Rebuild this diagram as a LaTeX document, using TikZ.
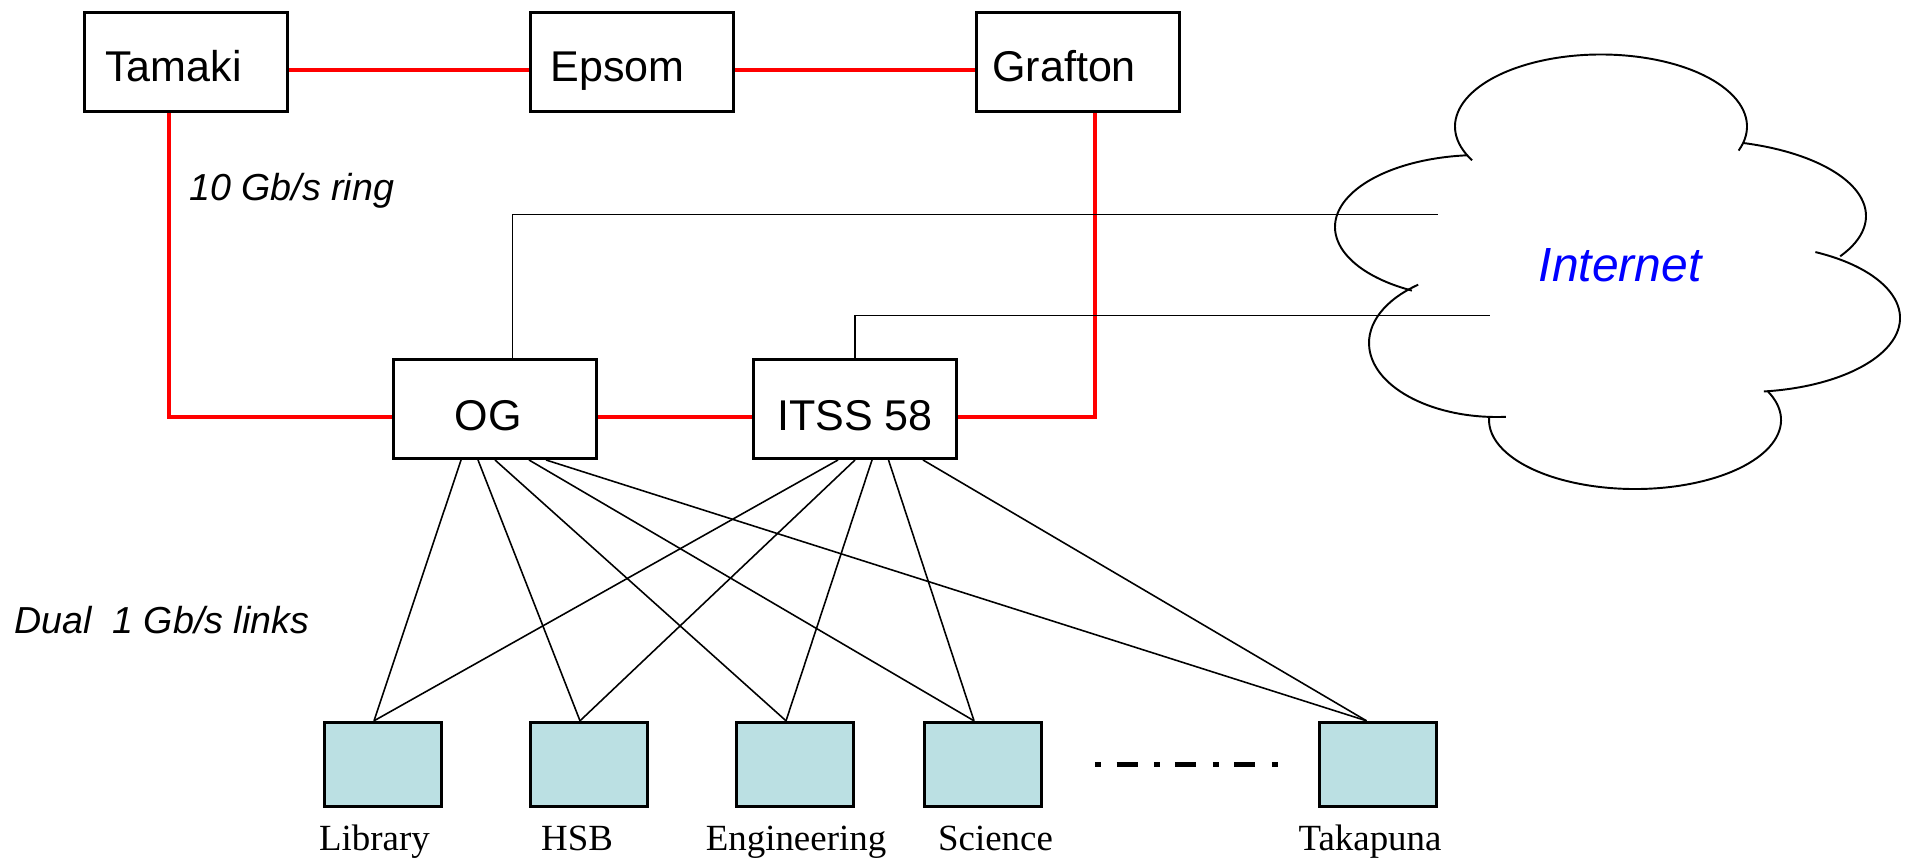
\documentclass[tikz,border=0pt]{standalone}
\usepackage{fontspec}
\setmainfont{Liberation Serif}
\newfontfamily\arial{Liberation Sans}
\usetikzlibrary{calc}
\definecolor{sitefill}{RGB}{187,224,227}
\definecolor{netblue}{RGB}{0,0,255}
\definecolor{ringred}{RGB}{255,0,0}
\tikzset{
  box/.style={draw, line width=1.7pt, fill=white, minimum width=4.06cm, minimum height=1.98cm, inner sep=0pt},
  site/.style={draw, line width=1.6pt, fill=sitefill, minimum width=2.35cm, minimum height=1.68cm, inner sep=0pt},
  ring/.style={draw=ringred, line width=2.75pt},
  link/.style={draw, line width=0.9pt},
  cloudline/.style={draw, line width=1.1pt},
  boxlabel/.style={font=\arial\fontsize{24.5}{29}\selectfont, inner sep=0pt, anchor=base west},
  notelabel/.style={font=\arial\itshape\fontsize{21.4}{25}\selectfont, inner sep=0pt, anchor=base west},
  sitelabel/.style={font=\fontsize{21}{25}\selectfont, inner sep=0pt, anchor=base},
}
\begin{document}
\begin{tikzpicture}[x=0.02cm, y=-0.02cm]
\useasboundingbox (0,0) rectangle (1905,859);

% cloud
\draw[cloudline] (1601,126.5) ++(152:146 and 72) arc[start angle=152, end angle=379.5, x radius=146, y radius=72];
\draw[cloudline] (1696,216) ++(-74:170 and 76) arc[start angle=-74, end angle=32, x radius=170, y radius=76];
\draw[cloudline] (1745,318) ++(-63:155 and 74) arc[start angle=-63, end angle=83, x radius=155, y radius=74];
\draw[cloudline] (1635,420) ++(-25:146 and 69) arc[start angle=-25, end angle=182, x radius=146, y radius=69];
\draw[cloudline] (1497,343) ++(86:128 and 74) arc[start angle=86, end angle=232, x radius=128, y radius=74];
\draw[cloudline] (1480,227) ++(118:145 and 72) arc[start angle=118, end angle=265, x radius=145, y radius=72];
\node[font=\arial\itshape\fontsize{27.3}{32}\selectfont, text=netblue, anchor=base, inner sep=0pt] (net) at (1620,281.7) {Internet};

% core boxes
\node[box] (tamaki) at (186,62) {};
\node[box] (epsom) at (632,62) {};
\node[box] (grafton) at (1078,62) {};
\node[box] (og) at (495,409) {};
\node[box] (itss) at (855,409) {};

\node[boxlabel] (tamakiT) at (105,81.7) {Tamaki};
\node[boxlabel] (epsomT) at (550,81.7) {Epsom};
\node[boxlabel] (graftonT) at (992,81.7) {Grafton};
\node[boxlabel, anchor=base] (ogT) at (488,430) {OG};
\node[boxlabel, anchor=base] (itssT) at (855,430) {ITSS 58};

% 10 Gb/s ring
\draw[ring] ([yshift=-0.16cm]tamaki.east) -- ([yshift=-0.16cm]epsom.west);
\draw[ring] ([yshift=-0.16cm]epsom.east) -- ([yshift=-0.16cm]grafton.west);
\draw[ring] ([xshift=-0.34cm]tamaki.south) |- ([yshift=-0.16cm]og.west);
\draw[ring] ([yshift=-0.16cm]og.east) -- ([yshift=-0.16cm]itss.west);
\draw[ring] ([yshift=-0.16cm]itss.east) -| ([xshift=0.34cm]grafton.south);

% internet links
\coordinate (net1) at (1438,214.3);
\coordinate (net2) at (1489.5,315.7);
\draw[link] ([xshift=0.354cm]og.north) |- (net1);
\draw[link] (itss.north) |- (net2);

% sites
\node[site] (lib) at (383,764.2) {};
\node[site] (hsb) at (589,764.2) {};
\node[site] (eng) at (795,764.2) {};
\node[site] (sci) at (983,764.2) {};
\node[site] (tak) at (1378,764.2) {};

\node[sitelabel] (libT) at (374.5,850.7) {Library};
\node[sitelabel] (hsbT) at (577,850.7) {HSB};
\node[sitelabel] (engT) at (796,850.7) {Engineering};
\node[sitelabel] (sciT) at (995.5,850.7) {Science};
\node[sitelabel] (takT) at (1370,850.7) {Takapuna};

% dual links
\draw[link] ([xshift=-0.68cm]og.south) -- ([xshift=-0.18cm]lib.north);
\draw[link] ([xshift=-0.34cm]og.south) -- ([xshift=-0.18cm]hsb.north);
\draw[link] (og.south) -- ([xshift=-0.18cm]eng.north);
\draw[link] ([xshift=0.68cm]og.south) -- ([xshift=-0.18cm]sci.north);
\draw[link] ([xshift=1.02cm]og.south) -- ([xshift=-0.23cm]tak.north);
\draw[link] ([xshift=-0.34cm]itss.south) -- ([xshift=-0.18cm]lib.north);
\draw[link] (itss.south) -- ([xshift=-0.18cm]hsb.north);
\draw[link] ([xshift=0.34cm]itss.south) -- ([xshift=-0.18cm]eng.north);
\draw[link] ([xshift=0.67cm]itss.south) -- ([xshift=-0.18cm]sci.north);
\draw[link] ([xshift=1.36cm]itss.south) -- ([xshift=-0.23cm]tak.north);

% more sites
\coordinate (dd1) at (1095,764.3);
\coordinate (dd2) at (1278,764.3);
\draw[line width=2.85pt, dash pattern=on 3.41pt off 8.82pt on 11.95pt off 9.39pt] (dd1) -- (dd2);

% notes
\node[notelabel] (ringT) at (189,200) {10 Gb/s ring};
\node[notelabel] (dualT) at (14,633.3) {Dual\ \ 1 Gb/s links};
\end{tikzpicture}
\end{document}
